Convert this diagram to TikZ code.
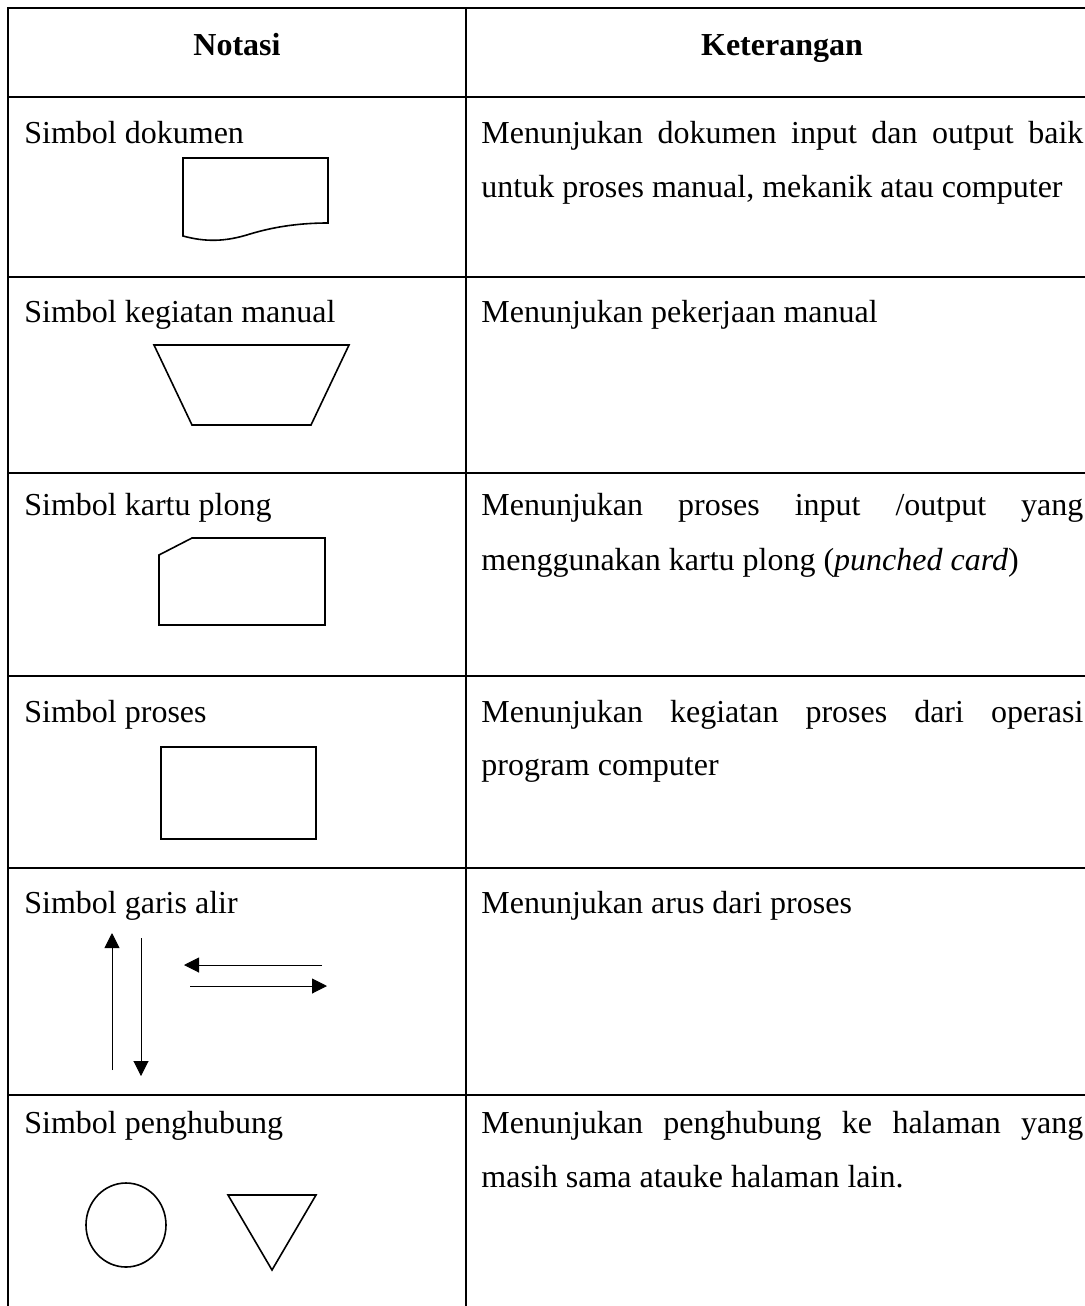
\documentclass[tikz,border=0pt]{standalone}
\usepackage{fontspec}
\setmainfont{Liberation Serif}
\usetikzlibrary{arrows.meta}

\tikzset{
  grid/.style={line width=0.9pt},
  sym/.style={line width=0.8pt,line join=miter},
  flow/.style={line width=0.5pt,-{Triangle[length=7.5pt,width=7.5pt]}},
  txt/.style={anchor=base west,inner sep=0pt,font=\fontsize{16}{19}\selectfont},
  head/.style={anchor=base,inner sep=0pt,font=\fontsize{16}{19}\selectfont\bfseries}
}
\newcommand{\jline}[1]{\makebox[301pt][s]{#1}}

\begin{document}
\begin{tikzpicture}[x=0.5pt,y=-0.5pt]
    \useasboundingbox (0,0) rectangle (1085,1306);
    %table lines
    \draw[grid] (8,1306) -- (8,8) -- (1085,8);
    \draw[grid] (466,8) -- (466,1306);
    \foreach \y in {97,277,473,676,868,1095}
        \draw[grid] (8,\y) -- (1085,\y);

    %header
    \node (hnot) at (237,55) [head] {Notasi};
    \node (hket) at (782,55) [head] {Keterangan};

    %left column
    \node (ldok) at (24,143) [txt] {Simbol dokumen};
    \node (lman) at (24,322) [txt] {Simbol kegiatan manual};
    \node (lkar) at (24,515) [txt] {Simbol kartu plong};
    \node (lpro) at (24,722) [txt] {Simbol proses};
    \node (lgar) at (24,913) [txt] {Simbol garis alir};
    \node (lpen) at (24,1133) [txt] {Simbol penghubung};

    %right column
    \node (rdok1) at (481,143) [txt] {\jline{Menunjukan dokumen input dan output baik}};
    \node (rdok2) at (481,197) [txt] {untuk proses manual, mekanik atau computer};
    \node (rman) at (481,322) [txt] {Menunjukan pekerjaan manual};
    \node (rkar1) at (481,515) [txt] {\jline{Menunjukan proses input /output yang}};
    \node (rkar2) at (481,570) [txt] {menggunakan kartu plong (\textit{punched card})};
    \node (rpro1) at (481,722) [txt] {\jline{Menunjukan kegiatan proses dari operasi}};
    \node (rpro2) at (481,775) [txt] {program computer};
    \node (rgar) at (481,913) [txt] {Menunjukan arus dari proses};
    \node (rpen1) at (481,1133) [txt] {\jline{Menunjukan penghubung ke halaman yang}};
    \node (rpen2) at (481,1187) [txt] {masih sama atauke halaman lain.};

    %symbols
    \draw[sym] (183,236) -- (183,158) -- (328,158) -- (328,223)
        .. controls (295,223) and (270,228) .. (250,234)
        .. controls (225,242) and (205,242) .. cycle;
    \draw[sym] (154,345) -- (349,345) -- (311,425) -- (192,425) -- cycle;
    \draw[sym] (192,538) -- (325,538) -- (325,625) -- (159,625) -- (159,555) -- cycle;
    \draw[sym] (161,747) rectangle (316,839);

    \draw[flow] (112,1070) -- (112,933);
    \draw[flow] (141,938) -- (141,1076);
    \draw[flow] (322,965) -- (184,965);
    \draw[flow] (190,986) -- (327,986);

    \draw[sym] (126,1225) ellipse [x radius=40,y radius=42];
    \draw[sym] (228,1195) -- (316,1195) -- (272,1270) -- cycle;
\end{tikzpicture}
\end{document}
